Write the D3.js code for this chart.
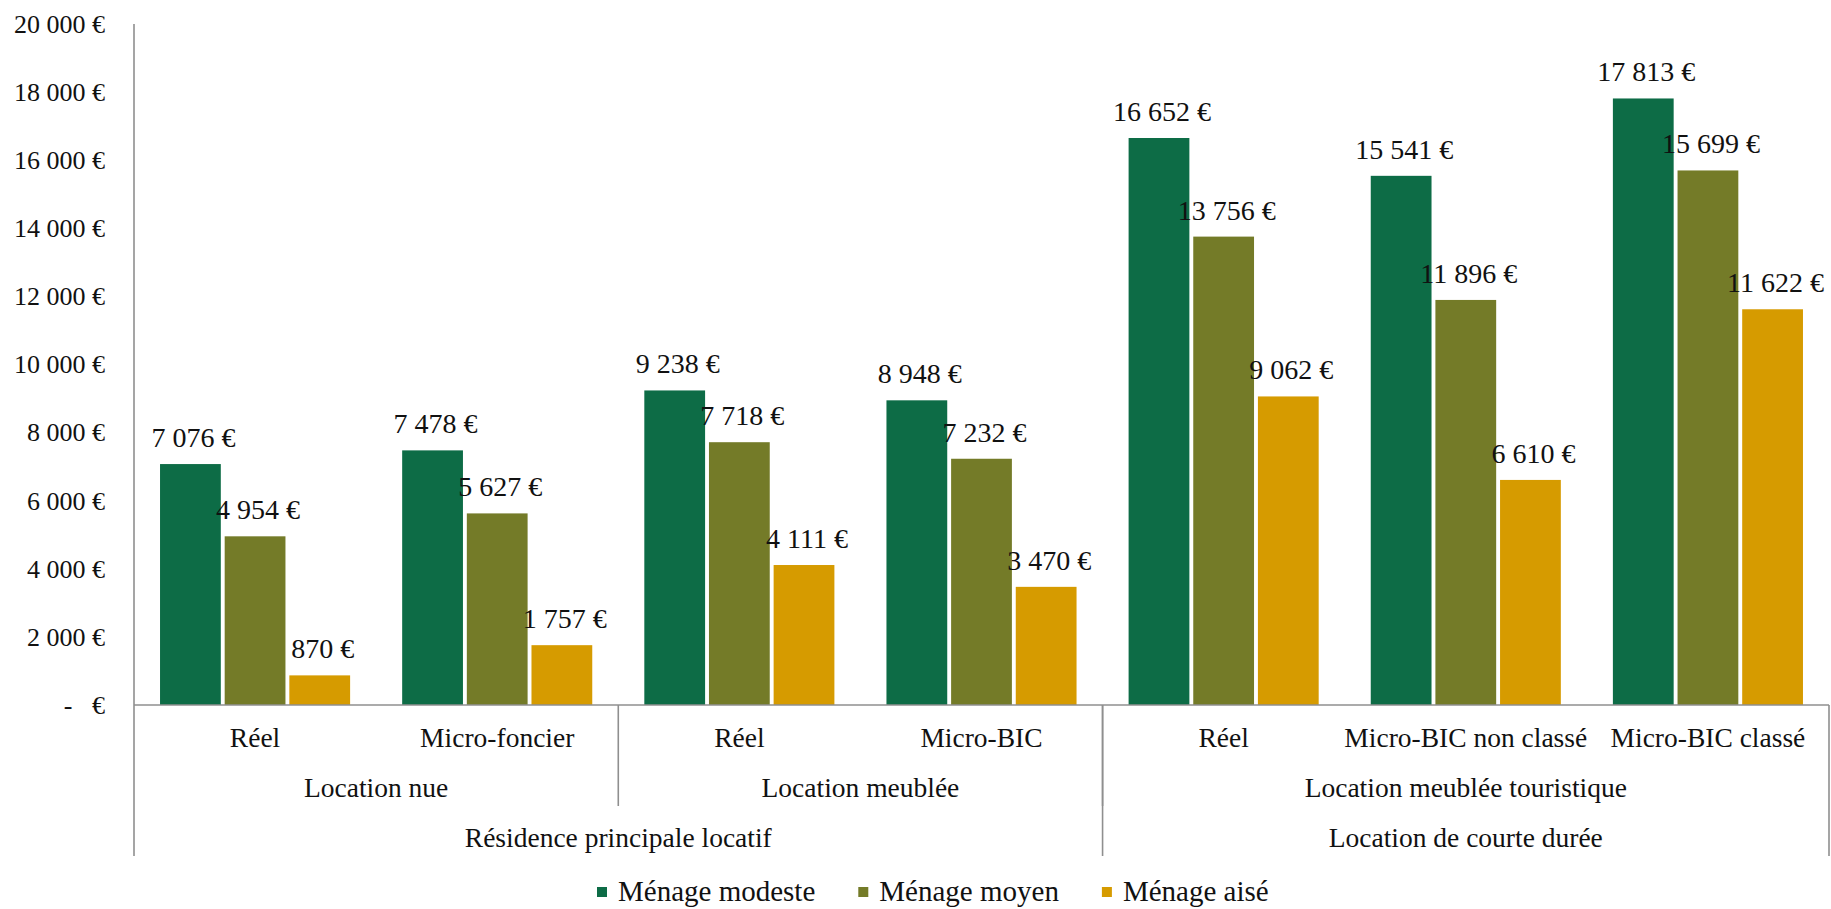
<!DOCTYPE html>
<html>
<head>
<meta charset="utf-8">
<script src="https://cdn.jsdelivr.net/npm/d3@7"></script>
<style>
  body { margin: 0; background: #fff; }
  text { font-family: "Liberation Serif", "DejaVu Serif", serif; fill: #111; }
</style>
</head>
<body>
<div id="chart"></div>
<script>
// ---- data ----
const categories = ["Réel", "Micro-foncier", "Réel", "Micro-BIC", "Réel", "Micro-BIC non classé", "Micro-BIC classé"];
const seriesNames = ["Ménage modeste", "Ménage moyen", "Ménage aisé"];
const modeste = [7076, 7478, 9238, 8948, 16652, 15541, 17813];
const moyen = [4954, 5627, 7718, 7232, 13756, 11896, 15699];
const aise = [870, 1757, 4111, 3470, 9062, 6610, 11622];
const level1 = [["Location nue", 0, 2], ["Location meublée", 2, 4], ["Location meublée touristique", 4, 7]];
const level2 = [["Résidence principale locatif", 0, 4], ["Location de courte durée", 4, 7]];
const yTicks = [0, 2000, 4000, 6000, 8000, 10000, 12000, 14000, 16000, 18000, 20000];

const seriesValues = [modeste, moyen, aise];
const colors = ["#0d6c46", "#747b28", "#d69b00"];

const svgWidth = 1831;
const svgHeight = 909;
const margin = { top: 24, right: 2, bottom: 204, left: 134 };
const width = svgWidth - margin.left - margin.right;
const height = svgHeight - margin.top - margin.bottom;
const axisColor = "#8f8f8f";

const euro = v => v === 0 ? "-\u00a0\u00a0\u00a0€" : d3.format(",")(v).replace(/,/g, "\u00a0") + "\u00a0€";

const svg = d3.select("#chart")
  .append("svg")
  .attr("width", svgWidth)
  .attr("height", svgHeight)
  .append("g")
  .attr("transform", `translate(${margin.left},${margin.top})`);

const x0 = d3.scaleBand()
  .domain(d3.range(categories.length))
  .range([0, width])
  .paddingInner(0.215)
  .paddingOuter(0.1075);

const x1 = d3.scaleBand()
  .domain(d3.range(seriesNames.length))
  .range([0, x0.bandwidth()])
  .paddingInner(0.06);

const y = d3.scaleLinear()
  .domain([0, 20000])
  .range([height, 0]);

// y axis labels
const yAxis = d3.axisLeft(y).tickValues(yTicks).tickSize(0).tickPadding(29).tickFormat(euro);
svg.append("g")
  .attr("class", "y-axis")
  .call(yAxis)
  .call(g => g.select(".domain").remove())
  .selectAll("text")
  .style("font-size", "26px")
  .style("font-family", "'Liberation Serif', serif")
  .attr("fill", "#111");

// bars
const groups = svg.selectAll(".cat")
  .data(categories.map((c, i) => i))
  .enter()
  .append("g")
  .attr("class", "cat")
  .attr("transform", i => `translate(${x0(i)},0)`);

groups.selectAll("rect")
  .data(i => seriesValues.map((s, k) => ({ k, v: s[i] })))
  .enter()
  .append("rect")
  .attr("x", d => x1(d.k))
  .attr("width", x1.bandwidth())
  .attr("y", d => y(d.v))
  .attr("height", d => height - y(d.v))
  .attr("fill", d => colors[d.k]);

groups.selectAll(".lbl")
  .data(i => seriesValues.map((s, k) => ({ k, v: s[i] })))
  .enter()
  .append("text")
  .attr("class", "lbl")
  .attr("x", d => x1(d.k) + x1.bandwidth() / 2 + 3)
  .attr("y", d => y(d.v) - 17)
  .attr("text-anchor", "middle")
  .style("font-size", "28px")
  .text(d => euro(d.v));

// axis lines
const step = x0.step();
const bx = i => i * step;
const lines = svg.append("g").attr("stroke", axisColor).attr("stroke-width", 1.6);
lines.append("line").attr("x1", 0).attr("x2", 0).attr("y1", 0).attr("y2", height + 151);
lines.append("line").attr("x1", 0).attr("x2", width).attr("y1", height).attr("y2", height);
level1.forEach(([, s, e]) => {
  if (s > 0) lines.append("line").attr("x1", bx(s)).attr("x2", bx(s)).attr("y1", height).attr("y2", height + 101);
});
level2.forEach(([, s, e]) => {
  lines.append("line").attr("x1", bx(e)).attr("x2", bx(e)).attr("y1", height).attr("y2", height + 151);
});

// category labels
const xAxis = d3.axisBottom(x0).tickSize(0).tickPadding(0).tickFormat(i => categories[i]);
svg.append("g")
  .attr("class", "x-axis")
  .attr("transform", `translate(0,${height})`)
  .call(xAxis)
  .call(g => g.select(".domain").remove())
  .selectAll("text")
  .attr("dy", null)
  .attr("y", 42)
  .style("font-size", "27.5px")
  .style("font-family", "'Liberation Serif', serif")
  .attr("fill", "#111");

svg.selectAll(".lvl1")
  .data(level1)
  .enter()
  .append("text")
  .attr("class", "lvl1")
  .attr("x", d => (bx(d[1]) + bx(d[2])) / 2)
  .attr("y", height + 92)
  .attr("text-anchor", "middle")
  .style("font-size", "27.5px")
  .text(d => d[0]);

svg.selectAll(".lvl2")
  .data(level2)
  .enter()
  .append("text")
  .attr("class", "lvl2")
  .attr("x", d => (bx(d[1]) + bx(d[2])) / 2)
  .attr("y", height + 142)
  .attr("text-anchor", "middle")
  .style("font-size", "27.5px")
  .text(d => d[0]);

// legend
const legend = d3.select("svg").append("g").attr("transform", "translate(597,892)");
let lx = 0;
seriesNames.forEach((name, k) => {
  const item = legend.append("g").attr("transform", `translate(${lx},0)`);
  item.append("rect").attr("x", 0).attr("y", -5).attr("width", 10).attr("height", 10).attr("fill", colors[k]);
  const t = item.append("text").attr("x", 21).attr("y", 9).style("font-size", "29px").text(name);
  lx += 21 + t.node().getComputedTextLength() + 43;
});
</script>
</body>
</html>
